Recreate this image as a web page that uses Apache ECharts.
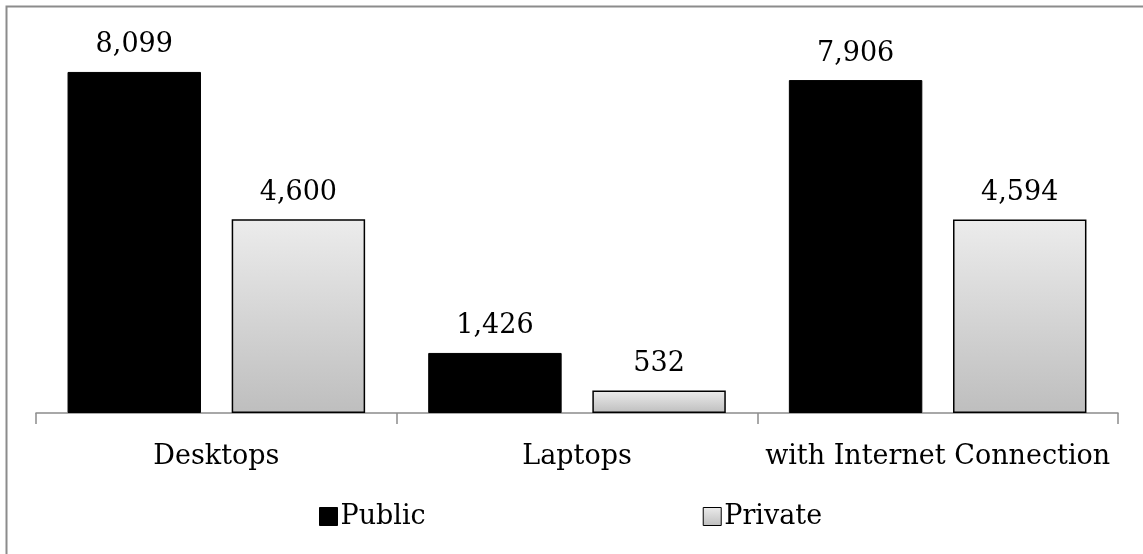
<!DOCTYPE html>
<html><head><meta charset="utf-8">
<script src="https://cdn.jsdelivr.net/npm/echarts@6/dist/echarts.min.js"></script>
<style>html,body{margin:0;padding:0;background:#fff}#c{width:1143px;height:554px}</style>
</head><body><div id="c"></div>
<script>
const categories = ['Desktops', 'Laptops', 'with Internet Connection'];
const seriesNames = ['Public', 'Private'];
const publicValues = [8099, 1426, 7906];
const privateValues = [4600, 532, 4594];

const FONT = 'DejaVu Serif';
const FS = 27;
const chart = echarts.init(document.getElementById('c'));
const fmt = p => Number(p.value).toLocaleString('en-US');
const grad = new echarts.graphic.LinearGradient(0, 0, 0, 1, [
  {offset: 0, color: '#ececec'}, {offset: 1, color: '#bebebe'}]);
chart.setOption({
  animation: false,
  backgroundColor: '#fff',
  graphic: [{type: 'rect', shape: {x: 6.5, y: 6.5, width: 1160, height: 560},
    style: {fill: 'none', stroke: '#8c8c8c', lineWidth: 2}, z: 100}],
  grid: {left: 36, right: 25, top: 34, bottom: 141},
  legend: {
    data: seriesNames, bottom: 19, left: 314, icon: 'rect', itemWidth: 18, itemHeight: 18, itemGap: 277,
    textStyle: {fontFamily: FONT, fontSize: FS, color: '#000', padding: [0, 0, 0, -2]},
    itemStyle: {borderColor: '#000', borderWidth: 1}
  },
  xAxis: {
    type: 'category', data: categories,
    axisLine: {lineStyle: {color: '#8c8c8c', width: 1.5}},
    axisTick: {show: true, length: 11, lineStyle: {color: '#8c8c8c', width: 1.5}},
    axisLabel: {interval: 0, fontFamily: FONT, fontSize: FS, color: '#000', margin: 30}
  },
  yAxis: {type: 'value', min: 0, max: 9000, show: false, splitLine: {show: false}},
  series: [
    {name: 'Public', type: 'bar', data: publicValues, barWidth: '37%', barGap: '23%',
     itemStyle: {color: '#000', borderColor: '#000', borderWidth: 1},
     label: {show: true, position: 'top', distance: 13, formatter: fmt, fontFamily: FONT, fontSize: FS, color: '#000'}},
    {name: 'Private', type: 'bar', data: privateValues, barWidth: '37%',
     itemStyle: {color: grad, borderColor: '#000', borderWidth: 1.5},
     label: {show: true, position: 'top', distance: 13, formatter: fmt, fontFamily: FONT, fontSize: FS, color: '#000'}}
  ]
});
</script></body></html>
